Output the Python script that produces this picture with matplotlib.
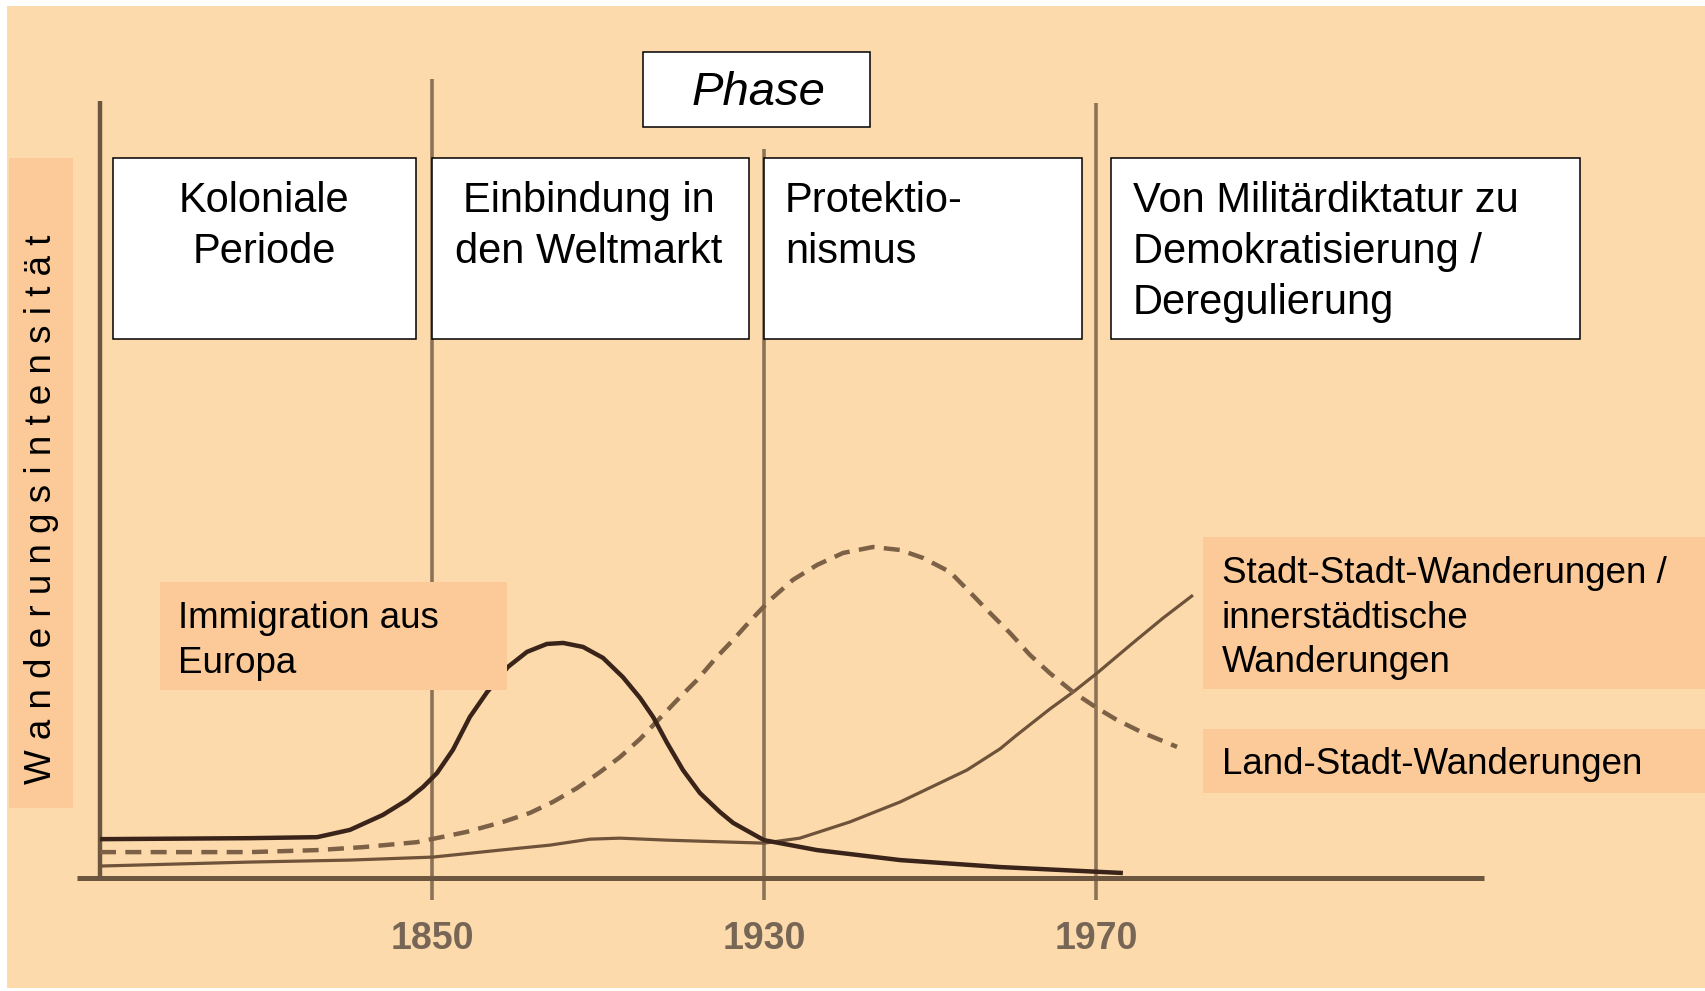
#!/usr/bin/env python3
# -----------------------------------------------------------
# Wanderungsintensität nach Phasen  (schematic, 1705x991 px)
# -----------------------------------------------------------
import matplotlib.pyplot as plt
from matplotlib.patches import Rectangle

# -----------------------------------------------------------
# DATA  (x in phase units: 0 = start, 1 = 1850, 2 = 1930, 3 = 1970;
#        y = relative migration intensity)
tick_x = [1, 2, 3]
tick_labels = ["1850", "1930", "1970"]

phase_names = ["Koloniale\nPeriode",
               "Einbindung in\nden Weltmarkt",
               "Protektio-\nnismus",
               "Von Militärdiktatur zu\nDemokratisierung /\nDeregulierung"]

immig_x = [0.000, 0.452, 0.654, 0.753, 0.852, 0.925, 0.973, 1.015, 1.063, 1.114,
           1.166, 1.229, 1.286, 1.346, 1.395, 1.455, 1.515, 1.575, 1.627, 1.666,
           1.708, 1.756, 1.807, 1.867, 1.907, 2.000, 2.160, 2.410, 2.711, 3.081]
immig_y = [0.117, 0.120, 0.123, 0.145, 0.190, 0.235, 0.274, 0.316, 0.386, 0.485,
           0.560, 0.636, 0.681, 0.705, 0.708, 0.696, 0.663, 0.605, 0.542, 0.485,
           0.407, 0.325, 0.256, 0.199, 0.166, 0.114, 0.084, 0.054, 0.033, 0.015]

land_x = [0.000, 0.452, 0.654, 0.792, 0.955, 1.105, 1.214, 1.295, 1.364, 1.437,
          1.506, 1.566, 1.627, 1.687, 1.747, 1.798, 1.858, 1.907, 1.958, 2.018,
          2.087, 2.160, 2.238, 2.328, 2.410, 2.479, 2.560, 2.620, 2.681, 2.741,
          2.801, 2.861, 2.931, 3.003, 3.063, 3.142, 3.244]
land_y = [0.078, 0.078, 0.084, 0.093, 0.108, 0.139, 0.169, 0.196, 0.229, 0.271,
          0.319, 0.364, 0.419, 0.482, 0.545, 0.596, 0.666, 0.717, 0.774, 0.837,
          0.898, 0.943, 0.979, 0.997, 0.988, 0.964, 0.922, 0.861, 0.798, 0.738,
          0.672, 0.617, 0.560, 0.512, 0.476, 0.437, 0.395]

stadt_x = [0.000, 0.452, 0.753, 1.003, 1.205, 1.355, 1.476, 1.566, 1.708, 2.000,
           2.108, 2.259, 2.410, 2.611, 2.711, 2.762, 2.861, 2.931, 3.003, 3.111,
           3.202, 3.292]
stadt_y = [0.036, 0.048, 0.054, 0.063, 0.084, 0.099, 0.117, 0.120, 0.114, 0.105,
           0.120, 0.169, 0.229, 0.325, 0.389, 0.431, 0.509, 0.560, 0.617, 0.708,
           0.783, 0.852]

# -----------------------------------------------------------
# COLOURS / FONTS
bg_col    = "#fcdaac"
label_col = "#fcc998"
line_col  = "#8b7357"
axis_col  = "#6c5640"
plt.rcParams["font.family"] = ["Liberation Sans", "DejaVu Sans"]

# pixel -> data helper (1 data unit = 332 px, origin at left axis / baseline)
X0, Y0, UNIT = 100, 878, 332
W, H = 1705, 991


def px(x, y):
    return (x - X0) / UNIT, (Y0 - y) / UNIT


def box(x0, y0, x1, y1, **kw):
    (a, b), (c, d) = px(x0, y1), px(x1, y0)
    ax.add_patch(Rectangle((a, b), c - a, d - b, **kw))


# -----------------------------------------------------------
fig = plt.figure(figsize=(W / 100, H / 100), dpi=100, facecolor="white")
ax = fig.add_axes([0, 0, 1, 1])
ax.set_xlim(px(0, 0)[0], px(W, 0)[0])
ax.set_ylim(px(0, H)[1], px(0, 0)[1])
ax.axis("off")

box(7, 6, W, 988, facecolor=bg_col, edgecolor="none", zorder=0)

# -------- axes and phase boundaries ---------------------------
ax.plot([0, 0], [0.0, px(0, 101)[1]], color=axis_col, lw=3.2, zorder=1,
        solid_capstyle="butt")
for xv, top in zip(tick_x, [79, 149, 103]):
    ax.plot([xv, xv], [px(0, 900)[1], px(0, top)[1]], color=line_col, lw=2.6,
            zorder=1, solid_capstyle="butt")
ax.plot([px(77, 0)[0], px(1484, 0)[0]], [0, 0], color=axis_col, lw=3.6,
        zorder=1, solid_capstyle="butt")

for xv, lab in zip(tick_x, tick_labels):
    ax.text(xv, px(0, 939)[1], lab, ha="center", va="center", fontsize=27,
            color="#776656", fontweight="bold")

# -------- curves ------------------------------------------------
ax.plot(stadt_x, stadt_y, color="#6e5239", lw=2.3, zorder=2,
        solid_capstyle="butt", solid_joinstyle="round")
ax.plot(land_x, land_y, color="#7d6146", lw=3.2, zorder=2,
        dashes=(3.6, 2.1), dash_capstyle="butt", dash_joinstyle="round")
ax.plot(immig_x, immig_y, color="#3a2419", lw=3.2, zorder=3,
        solid_capstyle="butt", solid_joinstyle="round")

# -------- phase boxes ------------------------------------------
box(643, 52, 870, 127, facecolor="white", edgecolor="black", lw=1.1, zorder=5)
ax.text(*px(758, 93), "Phase", ha="center", va="center", fontsize=34,
        style="italic", zorder=6)

phase_boxes = [(113, 416), (432, 749), (764, 1082), (1111, 1580)]
text_pos = [(264, "center"), (589, "center"), (785, "left"), (1133, "left")]
for (x0, x1), (tx, ha), name in zip(phase_boxes, text_pos, phase_names):
    box(x0, 158, x1, 339, facecolor="white", edgecolor="black", lw=1.1, zorder=5)
    nlines = name.count("\n") + 1
    ty = 201 + (nlines - 1) * 51 / 2
    ax.text(*px(tx, ty), name, ha=ha, va="center", multialignment=ha,
            fontsize=30, linespacing=1.345, zorder=6)

# -------- series labels ----------------------------------------
box(160, 582, 507, 690, facecolor=label_col, edgecolor="none", zorder=5)
ax.text(*px(178, 641), "Immigration aus\nEuropa", ha="left", va="center",
        fontsize=26.5, linespacing=1.34, zorder=6)

box(1203, 537, W, 689, facecolor=label_col, edgecolor="none", zorder=5)
ax.text(*px(1222, 618), "Stadt-Stadt-Wanderungen /\ninnerstädtische\nWanderungen",
        ha="left", va="center", fontsize=26.5, linespacing=1.34, zorder=6)

box(1203, 729, W, 793, facecolor=label_col, edgecolor="none", zorder=5)
ax.text(*px(1222, 765), "Land-Stadt-Wanderungen", ha="left", va="center",
        fontsize=26.5, zorder=6)

# -------- y label ----------------------------------------------
box(9, 158, 73, 808, facecolor=label_col, edgecolor="none", zorder=5)
ax.text(*px(42, 509), " ".join("Wanderungsintensität"), rotation=90,
        ha="center", va="center", fontsize=26.5, zorder=6)

fig.savefig("out.png", dpi=100, facecolor=fig.get_facecolor())
print("Figure written to: out.png")
